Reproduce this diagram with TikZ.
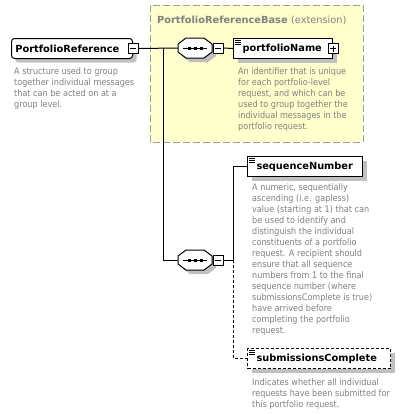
\documentclass[tikz,border=0pt]{standalone}
\usepackage{fontspec}
\setmainfont{DejaVu Sans}
\newfontfamily\descfont[FakeStretch=0.9]{DejaVu Sans}
\usetikzlibrary{shadows}
\definecolor{boxshadow}{HTML}{C0C0C0}
\definecolor{extfill}{HTML}{FFFFCC}
\definecolor{extline}{HTML}{A0A0A0}
\definecolor{desctext}{HTML}{808080}
\tikzset{
  elem/.style={draw, line width=1pt, fill=white, anchor=north west, minimum height=20pt,
    inner xsep=4pt, inner ysep=0pt, align=left,
    font=\fontsize{9.8}{11}\selectfont\bfseries,
    general shadow={fill=boxshadow, shadow xshift=4pt, shadow yshift=-4pt}},
  rootelem/.style={elem, rounded corners=3pt},
  optelem/.style={elem, dash pattern=on 3pt off 2pt},
  toggle/.style={draw, line width=1pt, fill=white, minimum size=10pt, inner sep=0pt,
    path picture={\draw[line width=1pt] ([xshift=2pt]path picture bounding box.west)
      -- ([xshift=-2pt]path picture bounding box.east);}},
  plus/.style={path picture={\draw[line width=1pt] ([xshift=2pt]path picture bounding box.west)
      -- ([xshift=-2pt]path picture bounding box.east)
      ([yshift=-2pt]path picture bounding box.north) -- ([yshift=2pt]path picture bounding box.south);}},
  compnode/.style={minimum width=34pt, minimum height=20pt, inner sep=0pt},
  % placed at the baseline of the last line
  desc/.style={anchor=base west, inner sep=0pt, align=left, text=desctext,
    font=\descfont\fontsize{9}{11}\selectfont},
  conn/.style={line width=1pt},
  optconn/.style={conn, dash pattern=on 3pt off 2pt}
}
% sequence compositor: name, position
\newcommand{\seqgroup}[2]{%
  \node[compnode] (#1) at (#2) {};
  \begin{scope}[shift={(#2)}]
    \fill[boxshadow, xshift=4pt, yshift=-4pt] (-17,-4) -- (-9,-10) -- (9,-10) -- (17,-4) -- (17,4) -- (9,10) -- (-9,10) -- (-17,4) -- cycle;
    \filldraw[fill=white, line width=1pt] (-17,-4) -- (-9,-10) -- (9,-10) -- (17,-4) -- (17,4) -- (9,10) -- (-9,10) -- (-17,4) -- cycle;
    \draw[line width=1pt] (-12,0) -- (12,0);
    \foreach \dx in {-6,0,6}
      \fill (\dx-1.5,-1.5) rectangle (\dx+1.5,1.5);
  \end{scope}}
% small list icon in the corner of an element
\newcommand{\elemicon}[1]{%
  \foreach \dy in {2,4,6}
    \draw[line width=0.8pt] ([shift={(2,\dy)}]#1.north west) -- ++(6,0);}
\begin{document}
\begin{tikzpicture}[x=1pt, y=-1pt]
  \useasboundingbox (0,0) rectangle (418,413);
  % extension base
  \draw[fill=extfill, draw=extline, line width=1pt, dash pattern=on 7pt off 3pt] (150,5) rectangle (363,142);
  \node[anchor=base west, inner sep=0pt, text=desctext, font=\fontsize{9.8}{11}\selectfont] (extTitle) at (157,23)
    {\bfseries PortfolioReferenceBase \mdseries(extension)};

  % elements
  \node[rootelem, text width=113pt] (root) at (11,38) {PortfolioReference};
  \node[toggle] (rootT) at (root.east) {};
  \seqgroup{seqA}{195,48}
  \node[toggle] (seqAT) at ([xshift=6pt]seqA.east) {};
  \node[elem, text width=91pt] (pname) at (233,38) {\kern5pt portfolioName};
  \node[toggle, plus] (pnameT) at (pname.east) {};
  \elemicon{pname}
  \seqgroup{seqB}{195,260}
  \node[toggle] (seqBT) at ([xshift=6pt]seqB.east) {};
  \node[elem, text width=107pt] (snum) at (247,156) {\kern5pt sequenceNumber};
  \elemicon{snum}
  \node[optelem, text width=135pt] (subc) at (247,348) {\kern5pt submissionsComplete};
  \elemicon{subc}

  % connectors
  \coordinate (fork) at (163,48);
  \draw[conn] (rootT.east) -- (seqA.west);
  \draw[conn] (seqAT.east) -- (pname.west);
  \draw[conn] (fork) |- (seqB.west);
  \draw[conn] (seqBT.east) -- ++(10,0) coordinate (forkB);
  \draw[conn] (forkB) |- (snum.west);
  \draw[optconn] (forkB) |- (subc.west);

  % annotations
  \node[desc] (rootD) at (14,107) {A structure used to group\\together individual messages\\that can be acted on at a\\group level.};
  \node[desc] (pnameD) at (238,129) {An identifier that is unique\\for each portfolio-level\\request, and which can be\\used to group together the\\individual messages in the\\portfolio request.};
  \node[desc] (snumD) at (252,333) {A numeric, sequentially\\ascending (i.e. gapless)\\value (starting at 1) that can\\be used to identify and\\distinguish the individual\\constituents of a portfolio\\request. A recipient should\\ensure that all sequence\\numbers from 1 to the final\\sequence number (where\\submissionsComplete is true)\\have arrived before\\completing the portfolio\\request.};
  \node[desc] (subcD) at (252,407) {Indicates whether all individual\\requests have been submitted for\\this portfolio request.};
\end{tikzpicture}
\end{document}
